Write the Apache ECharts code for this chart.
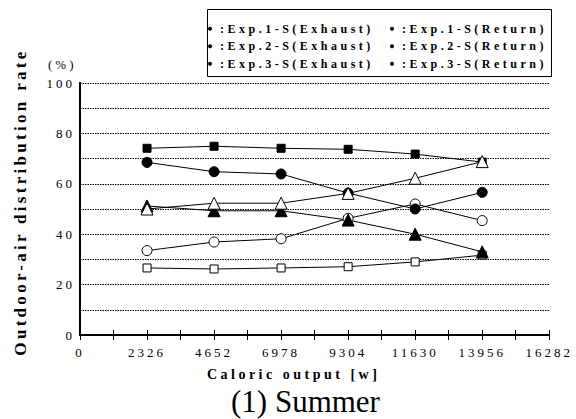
<!DOCTYPE html>
<html>
<head>
<meta charset="utf-8">
<script src="https://cdn.jsdelivr.net/npm/echarts@6/dist/echarts.min.js"></script>
<style>
html,body{margin:0;padding:0;background:#fff;}
#chart{width:576px;height:419px;}
</style>
</head>
<body>
<div id="chart"></div>
<script>
// ---- data ----
const outputs = [2326, 4652, 6978, 9304, 11630, 13956];
const xTicks = [0, 2326, 4652, 6978, 9304, 11630, 13956, 16282];
const yTicks = [0, 20, 40, 60, 80, 100];
const seriesNames = [
  'Exp.1-S(Exhaust)', 'Exp.1-S(Return)',
  'Exp.2-S(Exhaust)', 'Exp.2-S(Return)',
  'Exp.3-S(Exhaust)', 'Exp.3-S(Return)'
];
const exhaustNames = [seriesNames[0], seriesNames[2], seriesNames[4]];
const returnNames = [seriesNames[1], seriesNames[3], seriesNames[5]];
const exp1Exhaust = [74.1, 74.9, 74.1, 73.7, 71.8, 68.6];
const exp1Return  = [26.6, 26.2, 26.6, 27.1, 29.0, 31.7];
const exp2Exhaust = [68.5, 64.8, 63.9, 56.3, 50.0, 56.6];
const exp2Return  = [33.5, 36.9, 38.2, 46.3, 52.0, 45.4];
const exp3Exhaust = [51.2, 49.3, 49.3, 45.6, 40.0, 33.0];
const exp3Return  = [50.0, 52.3, 52.3, 56.2, 62.2, 68.8];

// ---- letter spacing helpers (reference text is letter-spaced) ----
const FONT = 'Liberation Serif';
function spacingFor(size){
  if (size >= 25) return 0;
  if (size === 12) return 3.5;
  if (size === 14) return 3.5;
  if (size === 17) return 3.3;
  return 3;
}
const mctx = document.createElement('canvas').getContext('2d');
if (echarts.setPlatformAPI) {
  echarts.setPlatformAPI({
    measureText: function(text, font){
      mctx.font = font || '12px sans-serif';
      const m = /(\d+(?:\.\d+)?)px/.exec(mctx.font);
      const size = m ? parseFloat(m[1]) : 12;
      const w = mctx.measureText(text).width;
      return { width: w + spacingFor(Math.round(size)) * String(text).length };
    }
  });
}

const pairs = vals => outputs.map((x, i) => [x, vals[i]]);
const black = '#000';
function mk(name, vals, symbol, size, filled){
  return {
    name: name, type: 'line', data: pairs(vals),
    symbol: symbol, symbolSize: size,
    lineStyle: {color: black, width: 1},
    itemStyle: {color: filled ? black : '#fff', borderColor: black, borderWidth: 1},
    emphasis: {disabled: true},
    animation: false
  };
}
function legendCol(names, left){
  return {
    data: names,
    left: left, top: 21,
    orient: 'vertical',
    padding: 0,
    itemGap: 2,
    itemWidth: 10, itemHeight: 4,
    icon: 'circle',
    itemStyle: {color: black, borderWidth: 0},
    selectedMode: false,
    formatter: n => ':' + n,
    textStyle: {fontFamily: FONT, fontSize: 12, fontWeight: 'bold', color: black, lineHeight: 14}
  };
}

const chart = echarts.init(document.getElementById('chart'), null, {renderer: 'svg'});
const option = {
  animation: false,
  backgroundColor: '#fff',
  title: [
    {text: '(1) Summer', left: 231, top: 386, padding: 0,
     textStyle: {fontFamily: FONT, fontSize: 31, fontWeight: 'normal', color: black, lineHeight: 31}},
    {text: '(%)', left: 48, top: 57, padding: 0,
     textStyle: {fontFamily: FONT, fontSize: 13, fontWeight: 'normal', color: black, lineHeight: 14}}
  ],
  grid: {left: 80, right: 26, top: 83, bottom: 84},
  legend: [legendCol(exhaustNames, 208), legendCol(returnNames, 390)],
  graphic: [{
    type: 'rect', shape: {x: 207.5, y: 9.5, width: 344, height: 67},
    style: {fill: 'none', stroke: '#000', lineWidth: 1}, silent: true
  }],
  xAxis: [{
    type: 'value', min: 0, max: 16282, interval: 2326, position: 'bottom',
    name: 'Caloric output [w]', nameLocation: 'middle', nameGap: 31,
    nameTextStyle: {fontFamily: FONT, fontSize: 14, fontWeight: 'bold', color: black, padding: [0, 42, 0, 0]},
    axisLine: {lineStyle: {color: black, width: 2}},
    axisTick: {show: true, inside: true, length: 5, lineStyle: {color: black, width: 1}},
    minorTick: {show: true, splitNumber: 2, length: 5, lineStyle: {color: black, width: 1}},
    axisLabel: {fontFamily: FONT, fontSize: 13, color: black, margin: 9,
      formatter: v => (xTicks.indexOf(v) >= 0 ? String(v) : '')},
    splitLine: {show: false}
  }, {
    type: 'value', min: 0, max: 16282, interval: 2326, position: 'top',
    axisLine: {lineStyle: {color: black, width: 1}},
    axisTick: {show: true, inside: true, length: 5, lineStyle: {color: black, width: 1}},
    minorTick: {show: true, splitNumber: 2, length: 5, lineStyle: {color: black, width: 1}},
    axisLabel: {show: false},
    splitLine: {show: false}
  }],
  yAxis: [{
    type: 'value', min: 0, max: 100, interval: 10, position: 'left',
    name: 'Outdoor-air distribution rate', nameLocation: 'middle', nameRotate: 90, nameGap: 49,
    nameTextStyle: {fontFamily: FONT, fontSize: 17, fontWeight: 'bold', color: black, padding: [0, 0, 0, 14]},
    axisLine: {show: true, lineStyle: {color: black, width: 2}},
    axisTick: {show: false},
    axisLabel: {fontFamily: FONT, fontSize: 13, color: black, margin: 5,
      formatter: v => (yTicks.indexOf(v) >= 0 ? String(v) : '')},
    splitLine: {show: true, lineStyle: {color: black, width: 1, type: [1.5, 1]}}
  }, {
    type: 'value', min: 0, max: 100, interval: 10, position: 'right',
    axisLine: {show: true, lineStyle: {color: black, width: 2}},
    axisTick: {show: false}, axisLabel: {show: false}, splitLine: {show: false}
  }],
  series: [
    mk(seriesNames[1], exp1Return, 'rect', 8, false),
    mk(seriesNames[3], exp2Return, 'circle', 10, false),
    mk(seriesNames[2], exp2Exhaust, 'circle', 10, true),
    mk(seriesNames[0], exp1Exhaust, 'rect', 8, true),
    mk(seriesNames[4], exp3Exhaust, 'triangle', 12, true),
    mk(seriesNames[5], exp3Return, 'triangle', 12, false)
  ]
};
chart.setOption(option);

function applySpacing(){
  document.querySelectorAll('#chart svg text').forEach(t => {
    const size = parseFloat(getComputedStyle(t).fontSize) || 12;
    t.style.letterSpacing = spacingFor(Math.round(size)) + 'px';
  });
}
applySpacing();
chart.on('finished', applySpacing);
</script>
</body>
</html>
